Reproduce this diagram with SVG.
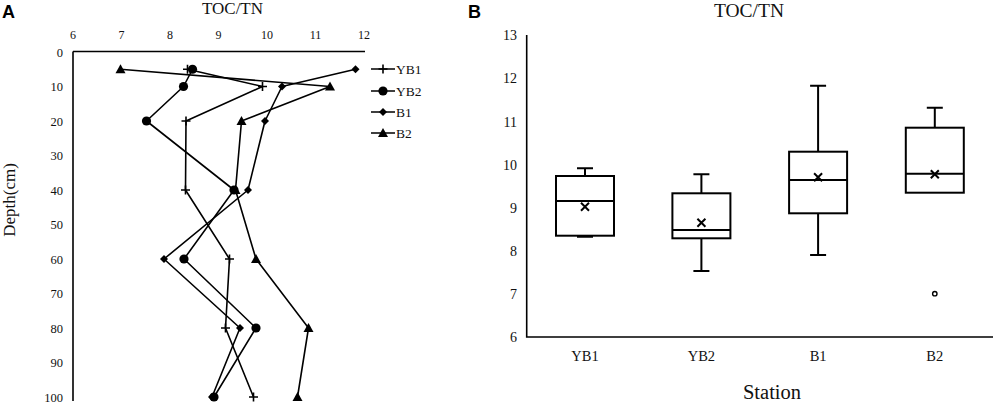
<svg xmlns="http://www.w3.org/2000/svg" width="996" height="404" viewBox="0 0 996 404">
<style>
.t{font-family:"Liberation Serif","Times New Roman",serif;fill:#111}
.lab{font-family:"Liberation Sans",Arial,sans-serif;font-weight:bold;font-size:18px;fill:#000}
.ax{stroke:#000;stroke-width:1.6;fill:none}
.ser{stroke:#000;stroke-width:1.6;fill:none;stroke-linejoin:round}
.box{stroke:#000;stroke-width:2;fill:#fff}
.wh{stroke:#000;stroke-width:2;fill:none}
.mk{fill:#000;stroke:none}
</style>
<defs>
<path id="mPlus" d="M-4.5,0H4.5M0,-4.5V4.5" stroke="#000" stroke-width="1.6" fill="none"/>
<circle id="mCirc" r="4.6" fill="#000"/>
<path id="mDia" d="M0,-4L4,0L0,4L-4,0Z" fill="#000"/>
<path id="mTri" d="M0,-5L5,4L-5,4Z" fill="#000"/>
<path id="mX" d="M-4,-4L4,4M4,-4L-4,4" stroke="#000" stroke-width="2" fill="none"/>
</defs>
<rect width="996" height="404" fill="#fff"/>

<g id="panelA">
<text class="lab" x="2" y="18">A</text>
<text class="t" x="232.5" y="14" font-size="17" text-anchor="middle">TOC/TN</text>
<g id="axisA">
<path class="ax" d="M73,51.5H365M73,51.5V401"/>
<g class="t" font-size="12" text-anchor="middle">
<text x="73" y="39">6</text><text x="121.5" y="39">7</text><text x="170" y="39">8</text><text x="218.5" y="39">9</text><text x="267" y="39">10</text><text x="315.5" y="39">11</text><text x="364" y="39">12</text>
</g>
<g class="t" font-size="12.5" text-anchor="end">
<text x="63" y="56.5">0</text><text x="63" y="91">10</text><text x="63" y="125.5">20</text><text x="63" y="160">30</text><text x="63" y="194.5">40</text><text x="63" y="229">50</text><text x="63" y="263.5">60</text><text x="63" y="298">70</text><text x="63" y="332.5">80</text><text x="63" y="367">90</text><text x="63" y="401.5">100</text>
</g>
<text class="t" font-size="17" text-anchor="middle" transform="translate(15,200) rotate(-90)">Depth(cm)</text>
</g>
<g id="connectors">
<polyline id="lineYB1" class="ser" points="187.5,69.25 262.5,86.5 186,121 185.5,190 229.5,259 225.5,328 253.5,397"/>
<polyline id="lineYB2" class="ser" points="192.5,69.25 183.5,86.5 146.5,121 234,190 184,259 256,328 214,397"/>
<polyline id="lineB1" class="ser" points="355.5,69.25 282,86.5 265,121 248,190 164,259 240,328 212,397"/>
<polyline id="lineB2" class="ser" points="120.5,69.25 330,86.5 241.5,121 235.5,190 256,259 308.5,328 297.5,397"/>
</g>
<g id="seriesYB1">
<use href="#mPlus" x="187.5" y="69.25"/><use href="#mPlus" x="262.5" y="86.5"/><use href="#mPlus" x="186" y="121"/><use href="#mPlus" x="185.5" y="190"/><use href="#mPlus" x="229.5" y="259"/><use href="#mPlus" x="225.5" y="328"/><use href="#mPlus" x="253.5" y="397"/>
</g>
<g id="seriesB2">
<use href="#mTri" x="120.5" y="69.25"/><use href="#mTri" x="330" y="86.5"/><use href="#mTri" x="241.5" y="121"/><use href="#mTri" x="235.5" y="190"/><use href="#mTri" x="256" y="259"/><use href="#mTri" x="308.5" y="328"/><use href="#mTri" x="297.5" y="397"/>
</g>
<g id="seriesB1">
<use href="#mDia" x="355.5" y="69.25"/><use href="#mDia" x="282" y="86.5"/><use href="#mDia" x="265" y="121"/><use href="#mDia" x="248" y="190"/><use href="#mDia" x="164" y="259"/><use href="#mDia" x="240" y="328"/><use href="#mDia" x="212" y="397"/>
</g>
<g id="seriesYB2">
<use href="#mCirc" x="192.5" y="69.25"/><use href="#mCirc" x="183.5" y="86.5"/><use href="#mCirc" x="146.5" y="121"/><use href="#mCirc" x="234" y="190"/><use href="#mCirc" x="184" y="259"/><use href="#mCirc" x="256" y="328"/><use href="#mCirc" x="214" y="397"/>
</g>
<g id="legendA">
<path class="ser" d="M371,69H395M371,91H395M371,112H395M371,133H395"/>
<use href="#mPlus" x="383" y="69"/><use href="#mCirc" x="383" y="91"/><use href="#mDia" x="383" y="112"/><use href="#mTri" x="383" y="133"/>
<g class="t" font-size="13.5">
<text x="396" y="73.5">YB1</text><text x="396" y="95.5">YB2</text><text x="396" y="116.5">B1</text><text x="396" y="137.5">B2</text>
</g>
</g>
</g>

<g id="panelB">
<text class="lab" x="468" y="18">B</text>
<text class="t" x="749" y="17" font-size="19.5" text-anchor="middle">TOC/TN</text>
<g id="axisB">
<path class="ax" d="M526.7,35V337H993"/>
<g class="t" font-size="14" text-anchor="end">
<text x="517" y="40.3">13</text><text x="517" y="83.4">12</text><text x="517" y="126.5">11</text><text x="517" y="169.6">10</text><text x="517" y="212.7">9</text><text x="517" y="255.8">8</text><text x="517" y="298.9">7</text><text x="517" y="342">6</text>
</g>
<g class="t" font-size="14.5" text-anchor="middle">
<text x="585" y="361">YB1</text><text x="701.4" y="361">YB2</text><text x="818.1" y="361">B1</text><text x="934.8" y="361">B2</text>
</g>
<text class="t" x="772" y="399" font-size="20.5" text-anchor="middle">Station</text>
</g>
<g id="boxYB1">
<path class="wh" d="M585,176V168.3M577,168.3H593M585,235.7V236.7M577,236.7H593"/>
<rect class="box" x="556" y="176" width="58" height="59.7"/>
<path class="wh" d="M556,201H614"/>
<use href="#mX" x="585" y="206.7"/>
</g>
<g id="boxYB2">
<path class="wh" d="M701.4,193.3V174.3M693.4,174.3H709.4M701.4,238.3V271M693.4,271H709.4"/>
<rect class="box" x="672.4" y="193.3" width="58" height="45"/>
<path class="wh" d="M672.4,230H730.4"/>
<use href="#mX" x="701.4" y="222.7"/>
</g>
<g id="boxB1">
<path class="wh" d="M818.1,151.7V85.7M810.1,85.7H826.1M818.1,213.3V255M810.1,255H826.1"/>
<rect class="box" x="789.1" y="151.7" width="58" height="61.6"/>
<path class="wh" d="M789.1,180H847.1"/>
<use href="#mX" x="818.1" y="177.3"/>
</g>
<g id="boxB2">
<path class="wh" d="M934.8,127.7V107.7M926.8,107.7H942.8"/>
<rect class="box" x="905.8" y="127.7" width="58" height="65"/>
<path class="wh" d="M905.8,173.7H963.8"/>
<use href="#mX" x="934.8" y="174.3"/>
<circle cx="934.8" cy="293.7" r="2.2" fill="#fff" stroke="#000" stroke-width="1.4"/>
</g>
</g>
</svg>
